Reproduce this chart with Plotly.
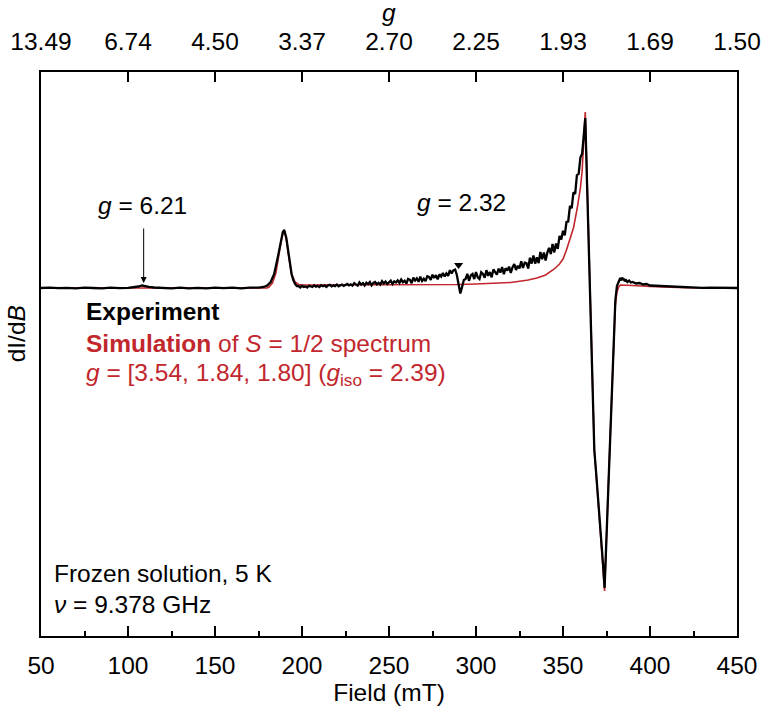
import plotly.graph_objects as go

# ---------------- data ----------------
# Field (mT) and signal (arbitrary units, baseline = 0)
exp_field_low = [50, 55, 60, 65, 70, 75, 80, 85, 90, 95, 100, 103, 106, 108, 110, 112, 115,
                 120, 125, 130, 135, 140, 145, 150, 155, 160, 165, 170, 175, 178, 180, 182,
                 184, 186, 188, 189, 189.8, 191, 192, 193, 194, 195, 196, 197]
exp_signal_low = [0, 0.3, -0.2, 0.2, -0.3, 0.3, 0, -0.3, 0.3, -0.2, 0.2, 0.5, 1.5, 2.5, 2.2, 1.2, 0.5,
                  0, -0.4, 0.3, -0.3, 0.2, -0.3, 0.3, -0.2, 0.3, -0.3, 0.4, 0.3, 1, 2.5, 6,
                  14, 30, 50, 56, 58, 50, 38, 25, 14, 8, 4, 2]

exp_field_mid = list(range(198, 363))
exp_signal_mid = [
    # 198-229
    2.0, 0.6, 2.2, 1.1, 1.6, 0.5, 2.2, 1.7, 1.0, 2.7, 1.3, 2.1, 0.9, 2.7, 1.7, 2.6, 1.1, 2.6, 3.1, 1.6,
    2.6, 1.9, 3.5, 1.7, 3.0, 3.5, 2.1, 2.9, 4.0, 2.6, 3.7, 2.4,
    # 230-259
    4.9, 3.6, 2.4, 5.6, 3.4, 4.9, 2.5, 5.3, 3.9, 6.0, 2.7, 5.1, 6.0, 3.7, 5.1, 3.4, 6.9, 4.5, 6.4, 4.0,
    5.9, 7.3, 4.0, 6.7, 5.6, 7.7, 5.1, 8.4, 5.8, 7.2,
    # 260-287
    4.5, 9.2, 8.2, 4.8, 10.3, 7.4, 9.6, 6.2, 11.4, 7.1, 9.3, 6.8, 11.8, 11.0, 8.2, 13.3, 10.0, 12.8,
    8.6, 13.7, 11.4, 15.1, 11.5, 14.6, 12.2, 17.8, 14.6, 17.7,
    # 288-294
    18.5, 13.0, 3.5, -5.5, 1.0, 8.0, 9.0,
    # 295-329
    14.2, 7.2, 12.6, 14.0, 9.0, 16.0, 10.7, 9.0, 15.7, 14.0, 10.3, 17.8, 12.1, 16.0, 10.7, 18.6, 15.8,
    13.4, 19.4, 15.4, 21.0, 13.8, 19.8, 17.4, 21.4, 15.0, 20.8, 23.8, 18.0, 22.2, 19.6, 26.6, 20.0,
    25.4, 24.8,
    # 330-349
    19.5, 30.2, 24.4, 32.4, 24.4, 30.7, 24.9, 36.1, 28.7, 35.5, 27.5, 35.5, 40.2, 33.9, 44.1, 35.6,
    44.5, 39.2, 52.0, 48.4,
    # 350-362
    57.2, 52.6, 66.0, 66.5, 82.0, 79.8, 95.6, 94.0, 112.8, 114.1, 130.4, 134.4, 156.8,
]

exp_field_high = [362.8, 364, 365, 366, 367, 368, 369, 370, 371, 372, 373, 373.9, 375, 376.2, 377.2,
                  378.2, 379.1, 380.1, 381, 382, 382.9, 383.5, 384, 384.5, 385, 385.5, 386, 387, 388,
                  389, 390, 392, 394, 396, 398, 400, 405, 410, 415, 420, 425, 430, 435, 440, 445, 450]
exp_signal_high = [170, 93, 29, -35, -99, -162, -184, -205, -228, -250, -276, -300, -249, -192, -142,
                   -92, -52, -12, 2, 7, 10, 7.5, 10.5, 8, 9.5, 6.5, 8.5, 6, 7.5,
                   5.5, 6, 4.5, 5, 3.5, 4, 2.5, 2, 1.5, 1.0, 0.5, 0.6, 0.2, 0.3, 0, 0.2, 0]

sim_field = [50, 100, 150, 180, 181, 183, 185, 187, 188.5, 189.8, 191, 192.5, 194, 196, 198, 200, 220,
             250, 280, 290, 300, 310, 320, 330, 335, 340, 345, 348, 350, 352, 354, 356, 358, 359, 360,
             361, 362, 362.8, 364, 365, 366, 367, 368, 370, 372, 373.9, 376, 378, 380, 381, 382, 383,
             385, 390, 400, 410, 420, 450]
sim_signal = [0, 0, 0, 0, 1, 5, 15, 35, 52, 58, 48, 30, 14, 6, 3.5, 3, 3,
              3, 3.2, 3.5, 4, 4.5, 5.5, 8, 10, 13, 19, 24, 29, 38, 48, 60, 78, 88, 100,
              117, 145, 176, 100, 35, -30, -97, -162, -208, -255, -303, -200, -100, -18, -4, 1, 3,
              3, 2.5, 1.5, 0.7, 0.3, 0]

field_ticks = [50, 100, 150, 200, 250, 300, 350, 400, 450]
g_tick_labels = ["13.49", "6.74", "4.50", "3.37", "2.70", "2.25", "1.93", "1.69", "1.50"]

g621_field, g621_level, g621_tail = 109.0, 5, 61     # arrow (head / tail level)
g232_field, g232_level = [290.0], [23]              # triangle marker

n_mid = min(len(exp_field_mid), len(exp_signal_mid))
exp_field = exp_field_low + exp_field_mid[:n_mid] + exp_field_high
exp_signal = exp_signal_low + exp_signal_mid[:n_mid] + exp_signal_high

RED = "#c1272d"
FONT = "Liberation Sans, Arial, sans-serif"
FS_AX = 24.5
FS = 24.5

fig = go.Figure()
fig.add_trace(go.Scatter(x=sim_field, y=sim_signal, mode="lines",
                         line=dict(color=RED, width=1.6), showlegend=False, hoverinfo="skip"))
fig.add_trace(go.Scatter(x=exp_field, y=exp_signal, mode="lines",
                         line=dict(color="black", width=2.3), showlegend=False, hoverinfo="skip"))
fig.add_trace(go.Scatter(x=g232_field, y=g232_level, mode="markers",
                         marker=dict(symbol="triangle-down", size=8, color="black"),
                         showlegend=False, hoverinfo="skip"))
# invisible trace for top axis
fig.add_trace(go.Scatter(x=[50, 450], y=[0, 0], xaxis="x2", mode="lines",
                         line=dict(width=0), opacity=0, showlegend=False, hoverinfo="skip"))

fig.update_layout(
    width=770, height=709,
    margin=dict(l=41, r=33, t=72, b=73),
    paper_bgcolor="white", plot_bgcolor="white",
    font=dict(family=FONT, size=FS_AX, color="black"),
    xaxis=dict(range=[50, 450], tickvals=field_ticks, ticks="inside", ticklen=10, tickwidth=1.5,
               tickcolor="black", showline=True, linecolor="black", linewidth=1.5,
               showgrid=False, zeroline=False, ticklabelstandoff=7, automargin=False,
               tickfont=dict(size=FS_AX),
               minor=dict(ticks="inside", ticklen=5, dtick=25, tick0=50, tickcolor="black", tickwidth=1.5,
                          showgrid=False),
               title=dict(text="Field (mT)", standoff=3, font=dict(size=FS_AX))),
    xaxis2=dict(range=[50, 450], overlaying="x", side="top", tickvals=field_ticks,
                ticktext=g_tick_labels, ticks="inside", ticklen=10, tickwidth=1.8, tickcolor="black",
                showline=True, linecolor="black", linewidth=1.5, showgrid=False, zeroline=False,
                ticklabelstandoff=10, automargin=False, tickfont=dict(size=FS_AX)),
    yaxis=dict(range=[-348, 216], showticklabels=False, ticks="", showline=True, mirror=True,
               linecolor="black", linewidth=1.5, showgrid=False, zeroline=False, automargin=False),
)

ann = []
# axis titles placed as annotations
ann.append(dict(x=0.5, y=1.106, xref="paper", yref="paper", text="<i>g</i>", showarrow=False,
                xanchor="center", yanchor="middle", font=dict(size=FS_AX)))
ann.append(dict(x=-0.034, y=0.5355, xref="paper", yref="paper", text="dI/d<i>B</i>", showarrow=False,
                textangle=-90, xanchor="center", yanchor="middle", font=dict(size=FS_AX)))
ann.append(dict(x=g621_field, y=g621_level, xref="x", yref="y", ax=g621_field, ay=g621_tail,
                axref="x", ayref="y", showarrow=True, arrowhead=2, arrowsize=1.2, arrowwidth=1,
                arrowcolor="black", text=""))
ann.append(dict(x=108.2, y=83, xref="x", yref="y", text="<i>g</i> = 6.21", showarrow=False,
                font=dict(size=FS)))
ann.append(dict(x=291.5, y=86, xref="x", yref="y", text="<i>g</i> = 2.32", showarrow=False,
                font=dict(size=FS)))
ann.append(dict(x=0.0618, y=0.5745, xref="paper", yref="paper", xanchor="left", yanchor="middle",
                text="<b>Experiment</b>", showarrow=False, font=dict(size=FS)))
ann.append(dict(x=0.0618, y=0.5195, xref="paper", yref="paper", xanchor="left", yanchor="middle",
                text="<b>Simulation</b> of <i>S</i> = 1/2 spectrum", showarrow=False,
                font=dict(size=FS, color=RED)))
ann.append(dict(x=0.0618, y=0.4645, xref="paper", yref="paper", xanchor="left", yanchor="middle",
                text="<i>g</i> = [3.54, 1.84, 1.80] (<i>g</i><sub>iso</sub> = 2.39)", showarrow=False,
                font=dict(size=FS, color=RED)))
ann.append(dict(x=0.0158, y=0.1117, xref="paper", yref="paper", xanchor="left", yanchor="middle",
                text="Frozen solution, 5 K", showarrow=False, font=dict(size=FS)))
ann.append(dict(x=0.0158, y=0.0567, xref="paper", yref="paper", xanchor="left", yanchor="middle",
                text="<i>ν</i> = 9.378 GHz", showarrow=False, font=dict(size=FS)))
fig.update_layout(annotations=ann)

# remove the browser's default 8 px body margin so the figure sits at the page origin
fig.write_html("out.html", config={"displayModeBar": False},
               post_script="document.body.style.margin='0';")
